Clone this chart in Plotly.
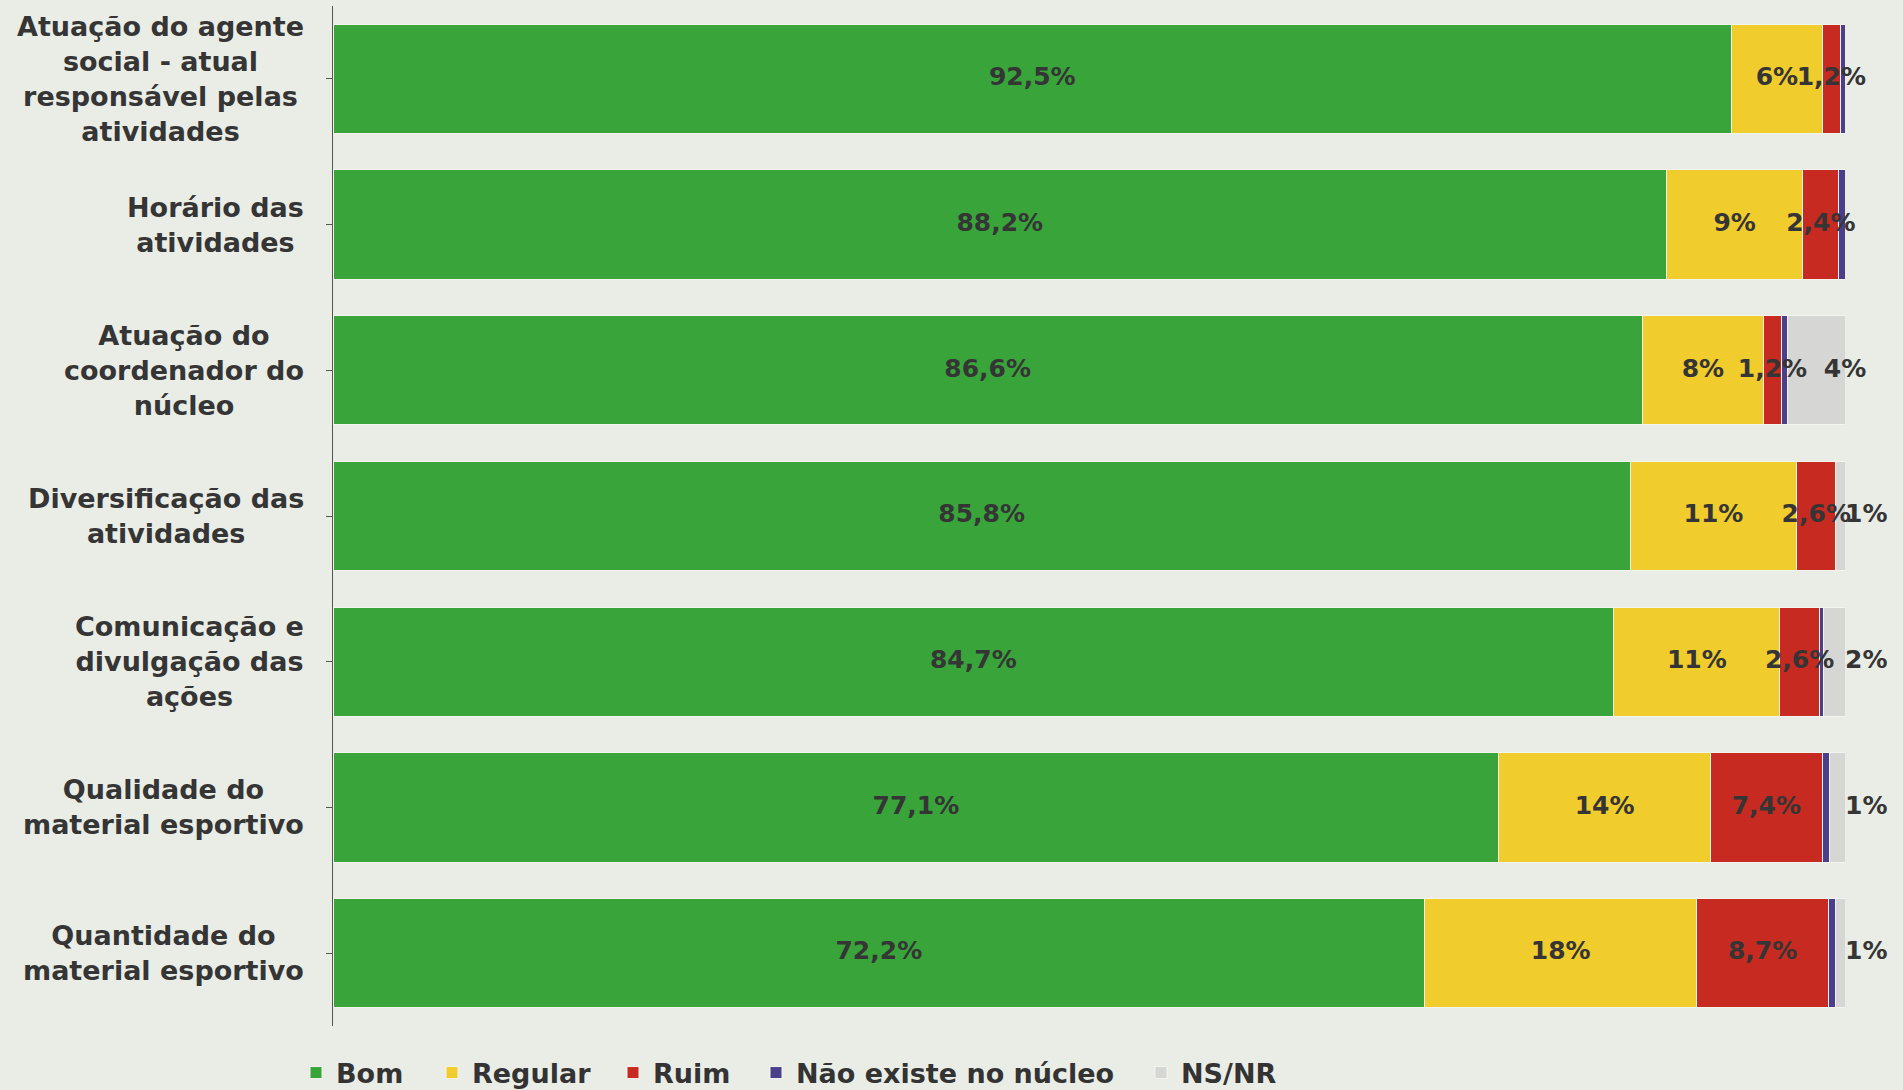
import plotly.graph_objects as go

categories = [
    "Atuação do agente<br>social - atual<br>responsável pelas<br>atividades",
    "Horário das<br>atividades",
    "Atuação do<br>coordenador do<br>núcleo",
    "Diversificação das<br>atividades",
    "Comunicação e<br>divulgação das<br>ações",
    "Qualidade do<br>material esportivo",
    "Quantidade do<br>material esportivo",
]
series_names = ["Bom", "Regular", "Ruim", "Não existe no núcleo", "NS/NR"]
bom = [92.5, 88.2, 86.6, 85.8, 84.7, 77.1, 72.2]
regular = [6, 9, 8, 11, 11, 14, 18]
ruim = [1.2, 2.4, 1.2, 2.6, 2.6, 7.4, 8.7]
nao_existe = [0.3, 0.4, 0.4, 0.0, 0.3, 0.5, 0.5]
nsnr = [0.0, 0.0, 3.8, 0.6, 1.4, 1.0, 0.6]

bom_txt = ["92,5%", "88,2%", "86,6%", "85,8%", "84,7%", "77,1%", "72,2%"]
regular_txt = ["6%", "9%", "8%", "11%", "11%", "14%", "18%"]
ruim_txt = ["1,2%", "2,4%", "1,2%", "2,6%", "2,6%", "7,4%", "8,7%"]
nao_txt = ["", "", "", "", "", "", ""]
nsnr_txt = ["", "", "4%", "1%", "2%", "1%", "1%"]
# where each NS/NR label is anchored: segment middle ("mid") or bar end ("end")
nsnr_anchor = ["mid", "mid", "end", "end", "end", "end", "end"]
nsnr_pos = ["middle center", "middle center", "middle center",
            "middle right", "middle right", "middle right", "middle right"]

colors = ["#38a43a", "#f1cc2d", "#c72a20", "#4b3f8c", "#d6d6d4"]
values = [bom, regular, ruim, nao_existe, nsnr]
texts = [bom_txt, regular_txt, ruim_txt, nao_txt, nsnr_txt]
anchors = [["mid"] * 7] * 4 + [nsnr_anchor]
positions = [["middle center"] * 7] * 4 + [nsnr_pos]

label_font = dict(family="DejaVu Sans, sans-serif", size=25, color="#353535", weight="bold")

legend_ids = ["legend", "legend2", "legend3", "legend4", "legend5"]
legend_px = [296, 432, 613, 756, 1141]

fig = go.Figure()
for name, vals, col, lid in zip(series_names, values, colors, legend_ids):
    fig.add_trace(go.Bar(
        y=categories, x=vals, name=name, orientation="h",
        marker=dict(color=col, line=dict(color="#f4f4ee", width=1)),
        hoverinfo="skip", legend=lid,
    ))

# value labels drawn on top of all bars, positioned from the stacked data
base = [0.0] * len(categories)
for vals, txt, anc, pos in zip(values, texts, anchors, positions):
    xs = [base[i] + (v if anc[i] == "end" else v / 2) for i, v in enumerate(vals)]
    fig.add_trace(go.Scatter(
        x=xs, y=categories, mode="text", text=txt, textposition=pos,
        textfont=label_font, showlegend=False, hoverinfo="skip", cliponaxis=False,
    ))
    base = [b + v for b, v in zip(base, vals)]

for cat in categories:
    fig.add_annotation(
        x=-0.018, xref="paper", y=cat, yref="y", xanchor="right", yanchor="middle",
        text=cat, showarrow=False, align="center",
        font=dict(family="DejaVu Sans, sans-serif", size=27, color="#353535", weight="bold"),
    )

legend_font = dict(family="DejaVu Sans, sans-serif", size=27, color="#333333", weight="bold")
legend_layouts = {}
for lid, px in zip(legend_ids, legend_px):
    legend_layouts[lid] = dict(
        orientation="h", xref="container", yref="container",
        x=px / 1903, y=1 - 1073 / 1090, xanchor="left", yanchor="middle",
        font=legend_font, itemwidth=30, bgcolor="rgba(0,0,0,0)",
    )

fig.update_layout(
    barmode="stack",
    bargap=0.25,
    width=1903, height=1090,
    paper_bgcolor="#e9ede6",
    plot_bgcolor="#e9ede6",
    margin=dict(l=333, r=58, t=6, b=64),
    showlegend=True,
    xaxis=dict(range=[0, 100], visible=False, showgrid=False, zeroline=False),
    yaxis=dict(
        autorange="reversed", showticklabels=False, showgrid=False, zeroline=False,
        showline=True, linecolor="#555555", linewidth=1,
        ticks="outside", ticklen=6, tickcolor="#555555",
    ),
    **legend_layouts,
)

fig.write_html(
    "out.html",
    config={"displayModeBar": False},
    post_script="document.body.style.margin='0';document.body.style.background='#e9ede6';",
)
